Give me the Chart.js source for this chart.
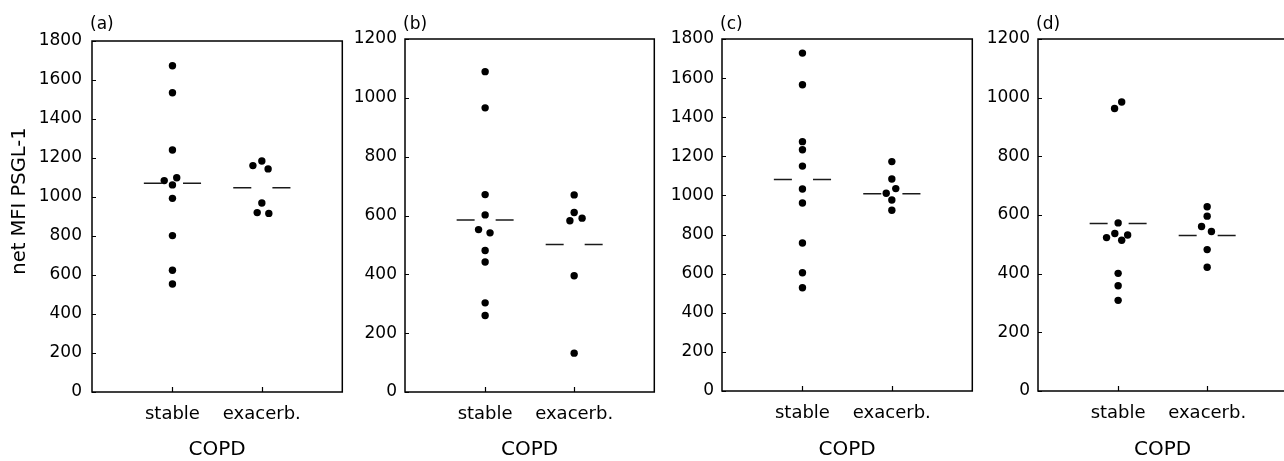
<!DOCTYPE html>
<html>
<head>
<meta charset="utf-8">
<script src="https://cdn.jsdelivr.net/npm/chart.js@4.4.1/dist/chart.umd.min.js"></script>
<style>
  html, body { margin: 0; padding: 0; background: #fff; overflow: hidden; }
  body { width: 1284px; height: 461px; position: relative; }
  canvas { position: absolute; top: 0; }
</style>
</head>
<body>
<canvas id="c0"></canvas>
<canvas id="c1"></canvas>
<canvas id="c2"></canvas>
<canvas id="c3"></canvas>
<script>
// ---------- data ----------
const categories = ['stable', 'exacerb.'];
const panelLabels = ['(a)', '(b)', '(c)', '(d)'];
const yAxisTitle = 'net MFI PSGL-1';
const xAxisTitle = 'COPD';
const yMax = [1800, 1200, 1800, 1200];
const yStep = 200;

const a_stable = [1673, 1535, 1241, 1084, 1099, 1062, 993, 802, 624, 554];
const a_stableJitter = [0, 0, 0, -0.092, 0.048, 0, 0, 0, 0, 0];
const a_exacerb = [1161, 1185, 1144, 969, 920, 916];
const a_exacerbJitter = [-0.1, 0, 0.07, 0, -0.052, 0.078];
const a_medians = [1070, 1048];

const b_stable = [1089, 966, 671, 602, 552, 541, 481, 442, 303, 260];
const b_stableJitter = [0, 0, 0, 0, -0.074, 0.055, 0, 0, 0, 0];
const b_exacerb = [670, 610, 582, 591, 395, 132];
const b_exacerbJitter = [0, 0, -0.048, 0.089, 0, 0];
const b_medians = [585, 501];

const c_stable = [1728, 1566, 1275, 1234, 1150, 1033, 961, 757, 605, 528];
const c_stableJitter = [0, 0, 0, 0, 0, 0, 0, 0, 0, 0];
const c_exacerb = [1173, 1084, 1011, 1035, 977, 924];
const c_exacerbJitter = [0, 0, -0.063, 0.044, 0, 0];
const c_medians = [1082, 1009];

const d_stable = [963, 985, 573, 523, 537, 514, 532, 401, 359, 309];
const d_stableJitter = [-0.04, 0.04, 0, -0.13, -0.037, 0.04, 0.107, 0, 0, 0];
const d_exacerb = [628, 596, 561, 544, 482, 422];
const d_exacerbJitter = [0, 0, -0.063, 0.048, 0, 0];
const d_medians = [571, 530];

// ---------- layout / style ----------
const LAYOUT = [
  { left: 0,   width: 346, axisW: 92, top: 41, bottom: 392, pad: 10 },
  { left: 346, width: 312, axisW: 59, top: 39, bottom: 392, pad: 8 },
  { left: 658, width: 318, axisW: 64, top: 39, bottom: 391, pad: 8 },
  { left: 976, width: 315, axisW: 62, top: 39, bottom: 391, pad: 8 }
];
const CANVAS_H = 461;
const MEDIAN_HALF = 0.32;
const MEDIAN_GAP = 0.118;
const TICK_LEN = 4;
const FONT = '"DejaVu Sans", sans-serif';

Chart.defaults.font.family = FONT;
Chart.defaults.color = '#000';

const panels = [
  { stable: a_stable, sJ: a_stableJitter, exacerb: a_exacerb, eJ: a_exacerbJitter, med: a_medians },
  { stable: b_stable, sJ: b_stableJitter, exacerb: b_exacerb, eJ: b_exacerbJitter, med: b_medians },
  { stable: c_stable, sJ: c_stableJitter, exacerb: c_exacerb, eJ: c_exacerbJitter, med: c_medians },
  { stable: d_stable, sJ: d_stableJitter, exacerb: d_exacerb, eJ: d_exacerbJitter, med: d_medians }
];

// frame box, inward tick marks, panel letter and y title
const framePlugin = {
  id: 'frame',
  afterDraw(chart, args, opts) {
    const { ctx, chartArea: a, scales } = chart;
    ctx.save();
    ctx.strokeStyle = '#000';
    ctx.lineWidth = 1.5;
    ctx.strokeRect(a.left, a.top, a.right - a.left, a.bottom - a.top);
    ctx.lineWidth = 1.2;
    ctx.beginPath();
    scales.y.ticks.forEach(t => {
      const py = Math.round(scales.y.getPixelForValue(t.value)) + 0.5;
      ctx.moveTo(a.left, py);
      ctx.lineTo(a.left + TICK_LEN, py);
    });
    scales.x.ticks.forEach(t => {
      const px = Math.round(scales.x.getPixelForValue(t.value)) + 0.5;
      ctx.moveTo(px, a.bottom);
      ctx.lineTo(px, a.bottom - TICK_LEN - 1);
    });
    ctx.stroke();
    ctx.fillStyle = '#000';
    ctx.font = '17px ' + FONT;
    ctx.textAlign = 'left';
    ctx.textBaseline = 'alphabetic';
    ctx.fillText(opts.label, a.left - 2, 29);
    if (opts.yTitle) {
      ctx.translate(20, 201);
      ctx.rotate(-Math.PI / 2);
      ctx.textAlign = 'center';
      ctx.textBaseline = 'middle';
      ctx.font = '19.5px ' + FONT;
      ctx.fillText(opts.yTitle, 0, 0);
    }
    ctx.restore();
  }
};

function medianSegments(center, m) {
  return [
    { x: center - MEDIAN_HALF, y: m },
    { x: center - MEDIAN_GAP, y: m },
    { x: center, y: null },
    { x: center + MEDIAN_GAP, y: m },
    { x: center + MEDIAN_HALF, y: m }
  ];
}

panels.forEach((p, i) => {
  const L = LAYOUT[i];
  const cv = document.getElementById('c' + i);
  cv.width = L.width;
  cv.height = CANVAS_H;
  cv.style.left = L.left + 'px';
  cv.style.width = L.width + 'px';
  cv.style.height = CANVAS_H + 'px';

  const pointStyle = {
    type: 'scatter',
    pointRadius: 3.7,
    pointHoverRadius: 3.7,
    pointBackgroundColor: '#000',
    pointBorderWidth: 0,
    showLine: false
  };
  const medianStyle = {
    type: 'line',
    borderColor: '#1a1a1a',
    borderWidth: 1.5,
    pointRadius: 0,
    spanGaps: false,
    fill: false
  };

  new Chart(cv, {
    data: {
      datasets: [
        Object.assign({ label: 'median ' + categories[0], data: medianSegments(1, p.med[0]) }, medianStyle),
        Object.assign({ label: 'median ' + categories[1], data: medianSegments(2, p.med[1]) }, medianStyle),
        Object.assign({ label: categories[0], data: p.stable.map((v, k) => ({ x: 1 + p.sJ[k], y: v })) }, pointStyle),
        Object.assign({ label: categories[1], data: p.exacerb.map((v, k) => ({ x: 2 + p.eJ[k], y: v })) }, pointStyle)
      ]
    },
    options: {
      responsive: false,
      animation: false,
      devicePixelRatio: 1,
      layout: { padding: { top: L.top, right: 3, left: 0, bottom: 0 } },
      plugins: {
        legend: { display: false },
        tooltip: { enabled: false },
        frame: { label: panelLabels[i], yTitle: i === 0 ? yAxisTitle : null }
      },
      scales: {
        x: {
          type: 'linear',
          min: 0.1,
          max: 2.9,
          afterBuildTicks: (s) => { s.ticks = categories.map((c, k) => ({ value: k + 1 })); },
          afterFit: (s) => { s.height = CANVAS_H - L.bottom; },
          ticks: {
            autoSkip: false,
            maxRotation: 0,
            padding: 12,
            font: { size: 18 },
            color: '#000',
            callback: (v) => categories[Math.round(v) - 1] || ''
          },
          grid: { display: false, drawTicks: false },
          border: { display: false },
          title: { display: true, text: xAxisTitle, font: { size: 20, lineHeight: 1.0 }, color: '#000', padding: { top: 0, bottom: 1 } }
        },
        y: {
          type: 'linear',
          min: 0,
          max: yMax[i],
          afterFit: (s) => { s.width = L.axisW; },
          ticks: {
            stepSize: yStep,
            padding: L.pad,
            font: { size: 17 },
            color: '#000',
            callback: (v) => String(v)
          },
          grid: { display: false, drawTicks: false },
          border: { display: false }
        }
      }
    },
    plugins: [framePlugin]
  });
});
</script>
</body>
</html>
